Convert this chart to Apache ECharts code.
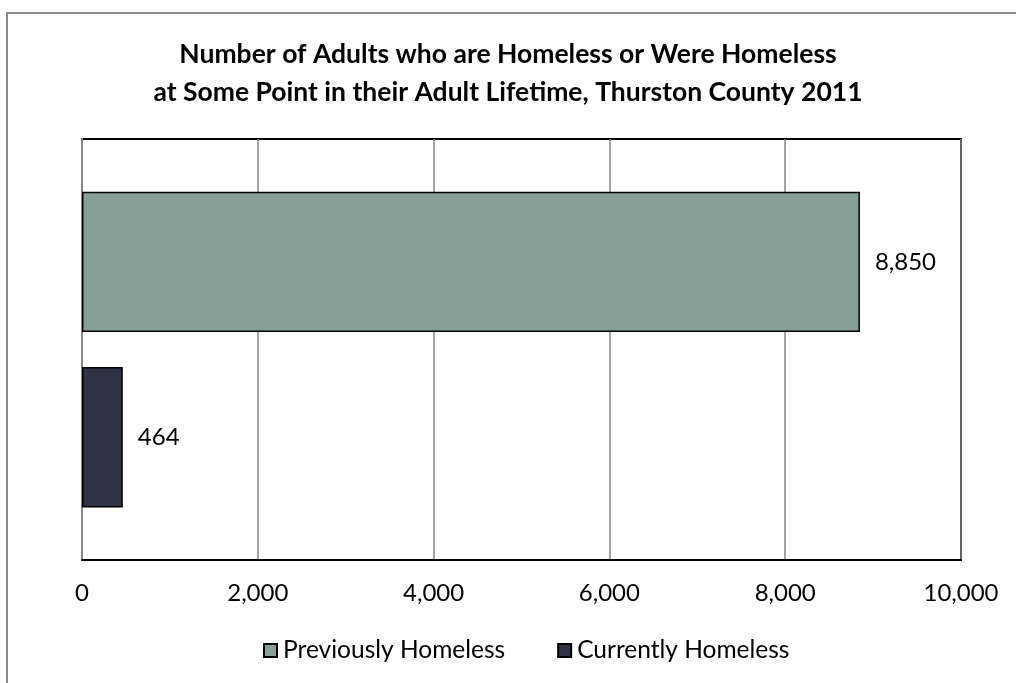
<!DOCTYPE html>
<html>
<head>
<meta charset="utf-8">
<script src="https://cdn.jsdelivr.net/npm/echarts@6/dist/echarts.min.js"></script>
<style>
html,body{margin:0;padding:0;background:#fff;}
#frame{position:absolute;left:6px;top:12px;width:1200px;height:900px;border-left:2px solid #8a8a8a;border-top:2px solid #8a8a8a;}
#chart{position:absolute;left:0;top:0;width:1016px;height:683px;}
</style>
</head>
<body>
<div id="frame"></div>
<div id="chart"></div>
<script>
const titleLines = ['Number of Adults who are Homeless or Were Homeless', 'at Some Point in their Adult Lifetime, Thurston County 2011'];
const categories = [''];
const seriesNames = ['Previously Homeless', 'Currently Homeless'];
const previouslyHomeless = [8850];
const currentlyHomeless = [464];
const xTicks = [0, 2000, 4000, 6000, 8000, 10000];
const colors = ['#86A097', '#303346'];

const FONT = 'Lato';
const fmt = v => Number(v).toLocaleString('en-US');

const chart = echarts.init(document.getElementById('chart'));
chart.setOption({
  animation: false,
  title: {
    text: titleLines.join('\n'),
    left: 'center',
    top: 30,
    textStyle: {fontFamily: FONT, fontWeight: 'bold', fontSize: 26.5, lineHeight: 38, color: '#000'}
  },
  legend: {
    data: seriesNames,
    bottom: 15,
    left: 258,
    icon: 'rect',
    itemWidth: 13,
    itemHeight: 13,
    itemGap: 52,
    textStyle: {fontFamily: FONT, fontSize: 24.5, color: '#000', padding: [0, 0, 0, 1]}
  },
  grid: {
    left: 82, right: 55, top: 139, bottom: 123,
    show: true, borderColor: '#000', borderWidth: 2, containLabel: false
  },
  xAxis: {
    type: 'value',
    min: xTicks[0],
    max: xTicks[xTicks.length - 1],
    interval: xTicks[1] - xTicks[0],
    axisLine: {show: true, lineStyle: {color: '#000', width: 2}},
    axisTick: {show: false},
    splitLine: {show: true, lineStyle: {color: '#868686', width: 1.5}},
    axisLabel: {fontFamily: FONT, fontSize: 24, color: '#000', margin: 21, formatter: fmt}
  },
  yAxis: {
    type: 'category',
    data: categories,
    inverse: true,
    axisLine: {show: true, lineStyle: {color: '#868686', width: 2}},
    axisTick: {show: false},
    axisLabel: {show: false}
  },
  series: [
    {
      name: seriesNames[0], type: 'bar', data: previouslyHomeless,
      barCategoryGap: '25%', barGap: '25%',
      itemStyle: {color: colors[0], borderColor: '#000', borderWidth: 1.5},
      label: {show: true, position: 'right', distance: 15, fontFamily: FONT, fontSize: 24, color: '#000', formatter: p => fmt(p.value)}
    },
    {
      name: seriesNames[1], type: 'bar', data: currentlyHomeless,
      barCategoryGap: '25%', barGap: '25%',
      itemStyle: {color: colors[1], borderColor: '#000', borderWidth: 1.5},
      label: {show: true, position: 'right', distance: 15, fontFamily: FONT, fontSize: 24, color: '#000', formatter: p => fmt(p.value)}
    }
  ]
});
</script>
</body>
</html>
